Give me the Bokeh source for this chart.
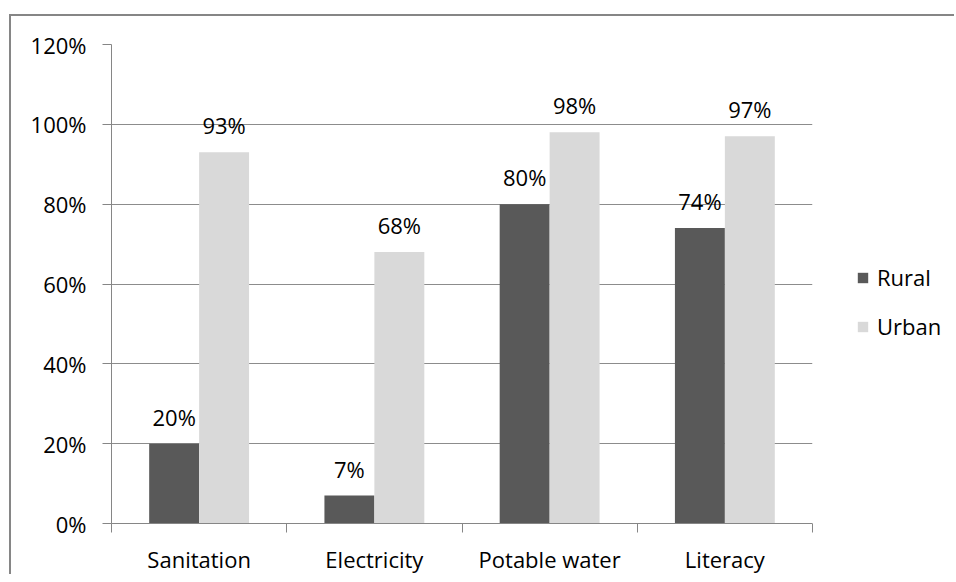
from bokeh.plotting import figure
from bokeh.models import (ColumnDataSource, Range1d, FixedTicker, PrintfTickFormatter,
                          Legend, LegendItem, LabelSet, BoxAnnotation, Grid)
from bokeh.core.properties import value
from bokeh.transform import dodge
from bokeh.embed import file_html
from bokeh.resources import INLINE

categories = ["Sanitation", "Electricity", "Potable water", "Literacy"]
rural = [20, 7, 80, 74]
urban = [93, 68, 98, 97]
series_names = ["Rural", "Urban"]
y_ticks = [0, 20, 40, 60, 80, 100, 120]

rural_color = "#595959"
urban_color = "#d9d9d9"
axis_color = "#868686"
FONT = "Open Sans"
FS = "22px"

n = len(categories)
pos = [i + 0.5 for i in range(n)]
src = ColumnDataSource(dict(
    pos=pos, cat=categories, rural=rural, urban=urban,
    rural_lbl=[f"{v}%" for v in rural], urban_lbl=[f"{v}%" for v in urban],
))

W, LEFT, CAT_W = 945, 100, 701
# plot area: CAT_W px for the categories, the rest of the width is legend room
x_end = n + n * (W - LEFT - CAT_W) / CAT_W
p = figure(width=W, height=560, output_backend="svg", toolbar_location=None,
           x_range=Range1d(0, x_end), y_range=Range1d(0, 120),
           min_border_left=LEFT, min_border_top=28, min_border_right=0, min_border_bottom=52)
p.outline_line_color = None
p.background_fill_color = "white"
p.border_fill_color = "white"
p.styles = {"margin-left": "9px", "margin-top": "14px",
            "border-left": f"2px solid {axis_color}", "border-top": f"2px solid {axis_color}"}

p.xgrid.grid_line_color = None
p.ygrid.grid_line_color = "#8c8c8c"
p.ygrid.grid_line_width = 1
if "cross_bounds" in Grid.properties():
    p.ygrid.cross_bounds = (0, n)

bw = 0.285
r1 = p.vbar(x=dodge("pos", -bw / 2), top="rural", width=bw, source=src,
            fill_color=rural_color, line_color=None)
r2 = p.vbar(x=dodge("pos", bw / 2), top="urban", width=bw, source=src,
            fill_color=urban_color, line_color=None)

for col, off in (("rural_lbl", -bw / 2), ("urban_lbl", bw / 2)):
    top = col.split("_")[0]
    p.add_layout(LabelSet(x=dodge("pos", off), y=top, text=col, source=src,
                          text_align="center", text_baseline="alphabetic", y_offset=18,
                          text_font=value(FONT), text_font_size=value(FS),
                          text_color="#000000"))

# white cover for the legend area (keeps gridlines inside the category span)
p.add_layout(BoxAnnotation(left=n, fill_color="white", fill_alpha=1, line_color=None,
                           editable=False))

# x axis
xa = p.xaxis[0]
xa.bounds = (0, n)
xa.ticker = FixedTicker(ticks=pos, minor_ticks=list(range(n + 1)))
xa.major_label_overrides = {p_: c for p_, c in zip(pos, categories)}
xa.major_tick_out = 0
xa.major_tick_in = 0
xa.minor_tick_out = 9
xa.minor_tick_in = 0
xa.minor_tick_line_color = axis_color
xa.axis_line_color = axis_color
xa.major_label_standoff = 11
xa.major_label_text_font = FONT
xa.major_label_text_font_size = FS
xa.major_label_text_color = "#000000"

# y axis
ya = p.yaxis[0]
ya.ticker = FixedTicker(ticks=y_ticks, minor_ticks=[])
ya.formatter = PrintfTickFormatter(format="%d%%")
ya.major_tick_out = 9
ya.major_tick_in = 0
ya.minor_tick_out = 0
ya.minor_tick_in = 0
ya.major_tick_line_color = axis_color
ya.axis_line_color = axis_color
ya.major_label_standoff = 16
ya.major_label_text_font = FONT
ya.major_label_text_font_size = FS
ya.major_label_text_color = "#000000"

legend = Legend(items=[LegendItem(label=series_names[0], renderers=[r1]),
                       LegendItem(label=series_names[1], renderers=[r2])],
                location=(745, 182), orientation="vertical",
                glyph_width=13, glyph_height=13, label_standoff=8,
                label_text_font=FONT, label_text_font_size=FS, label_text_color="#000000",
                label_height=22, spacing=19, padding=0, margin=0,
                border_line_color=None, background_fill_alpha=0)
p.add_layout(legend)

open("out.html", "w").write(file_html(p, INLINE))
